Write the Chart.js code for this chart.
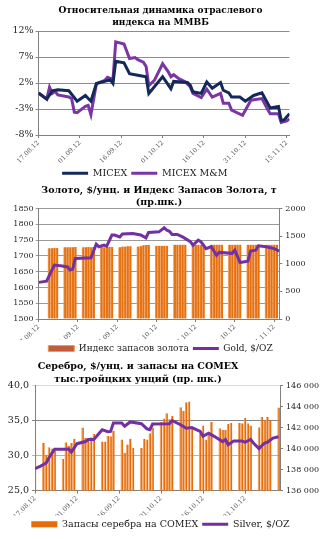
<!DOCTYPE html>
<html>
<head>
<meta charset="utf-8">
<script src="https://cdn.jsdelivr.net/npm/chart.js@4.4.0/dist/chart.umd.min.js"></script>
<style>
  body { margin: 0; background: #fff; width: 321px; height: 539px; overflow: hidden; position: relative; }
  canvas { position: absolute; left: 0; }
  .title { position: absolute; left: 0; font-family: 'DejaVu Serif', serif; font-weight: bold; font-size: 9.5px; text-align: center; color: #000; z-index: 5; white-space: nowrap; }
</style>
</head>
<body>
<div class="title" id="t1" style="top:4px;width:321px;line-height:12px;font-size:9px">Относительная динамика отраслевого<br>индекса на ММВБ</div>
<div class="title" id="t2" style="top:184px;width:318px;line-height:12px">Золото, $/унц. и Индекс Запасов Золота, т<br>(пр.шк.)</div>
<div class="title" id="t3" style="top:359px;width:276px;line-height:13px">Серебро, $/унц. и запасы на COMEX<br>тыс.тройцких унций (пр. шк.)</div>
<canvas id="c1" width="321" height="188" style="top:0"></canvas>
<canvas id="c2" width="321" height="181" style="top:182px"></canvas>
<canvas id="c3" width="321" height="183" style="top:356px"></canvas>
<script>
// x values are days counted from 17.08.12
var tickDays = [0, 15, 30, 45, 60, 75, 90];
var tickLabels = ['17.08.12', '01.09.12', '16.09.12', '01.10.12', '16.10.12', '31.10.12', '15.11.12'];

// chart 1: relative change, %
var micexDays = [0, 3, 5, 7, 11, 14, 17, 19, 21, 26, 27, 28, 31, 33, 36, 39, 40, 45, 48, 49, 54, 55, 56, 59, 61, 63, 66, 67, 69, 70, 73, 75, 78, 81, 84, 87, 88, 89, 91];
var micexValues = [0.1, -1.1, 0.5, 0.7, 0.5, -1.5, -0.4, -1.5, 1.9, 2.6, 1.9, 6.2, 5.9, 3.8, 3.5, 3.2, 0.0, 3.2, 0.9, 2.3, 2.1, 1.6, 0.3, 0.0, 2.2, 1.0, 2.1, 0.6, 0.1, -0.7, -0.7, -1.5, -0.4, 0.1, -2.8, -2.5, -5.2, -5.1, -3.9];
var mmDays = [0, 3, 4, 5, 6, 7, 11, 12, 13, 14, 17, 18, 19, 21, 24, 25, 27, 28, 31, 33, 35, 36, 38, 39, 40, 42, 45, 47, 48, 49, 51, 53, 55, 56, 59, 61, 63, 66, 67, 69, 70, 74, 77, 81, 83, 84, 87, 88, 90, 91];
var mmValues = [0.1, -1.1, 1.2, 0.0, 0.4, -0.3, -0.7, -1.0, -3.6, -3.7, -2.5, -2.3, -4.1, 1.9, 2.5, 3.1, 2.7, 9.9, 9.5, 6.7, 6.9, 6.5, 6.0, 5.2, 1.5, 2.5, 5.7, 4.2, 3.2, 3.6, 2.8, 2.3, 1.3, 0.0, -0.8, 0.8, -0.7, 0.0, -1.9, -1.9, -3.2, -4.2, -1.3, -1.0, -3.0, -3.9, -3.9, -5.6, -5.3, -4.9];

// chart 2: gold price ($/oz, left) and gold stocks index (t, right)
var goldDays = [0, 3, 6, 9, 11, 12, 13, 14, 20, 22, 23, 25, 26, 28, 29, 31, 32, 36, 39, 41, 42, 46, 48, 49, 50, 51, 53, 55, 58, 59, 61, 62, 64, 66, 68, 69, 74, 75, 77, 80, 81, 83, 84, 87, 90, 92];
var goldPrice = [1616, 1620, 1671, 1668, 1665, 1655, 1658, 1692, 1694, 1737, 1729, 1734, 1731, 1766, 1766, 1760, 1769, 1771, 1766, 1757, 1774, 1776, 1789, 1781, 1778, 1768, 1768, 1760, 1745, 1734, 1750, 1745, 1723, 1729, 1702, 1711, 1708, 1718, 1679, 1683, 1715, 1718, 1732, 1729, 1723, 1715];
var goldIndexDays = [4, 5, 6, 7, 10, 11, 12, 13, 14, 17, 18, 19, 20, 21, 24, 25, 26, 27, 28, 31, 32, 33, 34, 35, 38, 39, 40, 41, 42, 45, 46, 47, 48, 49, 52, 53, 54, 55, 56, 59, 60, 61, 62, 63, 66, 67, 68, 69, 70, 73, 74, 75, 76, 77, 80, 81, 82, 83, 84, 87, 88, 89, 90, 91];
var goldIndex = [1280, 1280, 1283, 1285, 1298, 1300, 1300, 1300, 1302, 1300, 1300, 1302, 1300, 1302, 1302, 1300, 1302, 1302, 1305, 1298, 1312, 1312, 1315, 1315, 1310, 1318, 1335, 1340, 1338, 1325, 1325, 1325, 1326, 1326, 1345, 1345, 1345, 1345, 1345, 1343, 1343, 1343, 1343, 1343, 1345, 1345, 1345, 1345, 1345, 1345, 1345, 1345, 1345, 1345, 1345, 1345, 1345, 1345, 1345, 1345, 1345, 1345, 1345, 1345];

// chart 3: silver price ($/oz, left) and COMEX stocks (thousand oz, right)
var silverDays = [0, 2, 4, 5, 7, 11, 12, 13, 15, 18, 19, 21, 22, 24, 26, 27, 28, 31, 32, 34, 38, 40, 41, 42, 48, 49, 52, 54, 56, 59, 60, 62, 64, 67, 68, 69, 71, 74, 75, 77, 78, 80, 82, 83, 85, 87];
var silverPrice = [28.15, 28.5, 28.95, 29.7, 30.9, 30.9, 30.95, 30.5, 31.7, 32.0, 32.3, 32.3, 32.75, 33.7, 33.4, 33.45, 34.65, 34.65, 34.2, 34.8, 34.55, 33.8, 33.7, 34.5, 34.55, 35.0, 34.4, 33.9, 34.0, 33.45, 32.75, 33.2, 32.75, 32.0, 32.3, 31.55, 32.1, 32.1, 31.9, 32.3, 31.8, 31.0, 31.8, 31.9, 32.5, 32.7];
var comexDays = [0, 3, 4, 5, 6, 7, 10, 11, 12, 13, 14, 17, 18, 19, 20, 21, 24, 25, 26, 27, 28, 31, 32, 33, 34, 35, 38, 39, 40, 41, 42, 45, 46, 47, 48, 49, 52, 53, 54, 55, 56, 59, 60, 61, 62, 63, 66, 67, 68, 69, 70, 73, 74, 75, 76, 77, 80, 81, 82, 83, 84, 87];
var comexStocks = [140700, 140530, 139400, 140130, 140000, 139800, 139000, 140600, 140270, 140530, 140930, 142000, 141000, 141000, 141070, 141400, 140670, 140670, 141230, 141170, 141700, 140870, 139600, 140400, 140930, 140070, 140070, 140930, 140870, 141470, 142000, 142530, 142870, 143370, 142800, 143130, 143930, 143600, 144400, 144470, 142000, 141470, 142200, 140870, 141330, 142530, 141930, 141800, 141800, 142370, 142430, 142430, 142400, 142930, 142400, 142200, 142030, 143000, 142670, 143000, 142670, 143900];

Chart.defaults.font.family = "'DejaVu Serif', serif";
Chart.defaults.color = '#262626';
Chart.defaults.animation = false;
Chart.defaults.plugins.tooltip.enabled = false;

function pts(xs, ys) {
    return xs.map(function (x, i) { return { x: x, y: ys[i] }; });
}

function plain(v) { return String(v); }

function dateAxis(maxDay, height) {
    return {
        type: 'linear', min: 0, max: maxDay, offset: false,
        grid: { drawOnChartArea: false, tickLength: 3, color: '#808080', offset: false },
        border: { color: '#808080' },
        afterBuildTicks: function (axis) {
            axis.ticks = tickDays.filter(function (d) { return d <= maxDay; }).map(function (d) { return { value: d }; });
        },
        afterFit: function (axis) { axis.height = height; },
        ticks: {
            autoSkip: false, minRotation: 45, maxRotation: 45, padding: 1,
            color: '#595959', font: { size: 6.5 },
            callback: function (v) {
                var i = tickDays.indexOf(v);
                return i < 0 ? '' : tickLabels[i];
            }
        }
    };
}

function legendOpts(size) {
    return {
        position: 'bottom',
        labels: {
            usePointStyle: true, pointStyleWidth: 26, boxHeight: 6, padding: 4, color: '#1a1a1a', font: { size: size },
            sort: function (a, b) { return a.datasetIndex - b.datasetIndex; }
        }
    };
}

// Chart 1
new Chart(document.getElementById('c1'), {
    type: 'line',
    data: {
        datasets: [
            { label: 'MICEX', data: pts(micexDays, micexValues), borderColor: '#14295A', backgroundColor: '#14295A', borderWidth: 3, pointRadius: 0, pointStyle: 'line', tension: 0 },
            { label: 'MICEX M&M', data: pts(mmDays, mmValues), borderColor: '#7B36A6', backgroundColor: '#7B36A6', borderWidth: 3, pointRadius: 0, pointStyle: 'line', tension: 0 }
        ]
    },
    options: {
        responsive: false, devicePixelRatio: 1,
        layout: { padding: { top: 31, right: 31.5, left: 0, bottom: 0 } },
        scales: {
            x: dateAxis(91, 29.5),
            y: {
                min: -8, max: 12,
                ticks: { stepSize: 5, font: { size: 9.5 }, color: '#262626', padding: 2, callback: function (v) { return v + '%'; } },
                grid: { color: '#8C8C8C', tickLength: 3 },
                border: { color: '#808080' },
                afterFit: function (axis) { axis.width = 38.5; }
            }
        },
        plugins: { legend: legendOpts(9.5) }
    }
});

// Chart 2
var goldLegend = legendOpts(9);
goldLegend.labels.generateLabels = function (chart) {
    var items = Chart.defaults.plugins.legend.labels.generateLabels(chart);
    items.forEach(function (it) {
        if (it.datasetIndex === 0) {
            it.fillStyle = '#C65A3C';
            it.strokeStyle = '#F29A48';
            it.lineWidth = 1;
        }
    });
    return items;
};
new Chart(document.getElementById('c2'), {
    type: 'bar',
    data: {
        datasets: [
            { label: 'Индекс запасов золота', data: pts(goldIndexDays, goldIndex), yAxisID: 'y1', order: 2,
              backgroundColor: '#E4700F', borderColor: '#F2A467', borderWidth: { left: 1, right: 0, top: 0, bottom: 0 }, borderSkipped: false,
              barPercentage: 1, categoryPercentage: 1, pointStyle: 'rect' },
            { type: 'line', label: 'Gold, $/OZ', data: pts(goldDays, goldPrice), yAxisID: 'y', order: 1,
              borderColor: '#7330A3', backgroundColor: '#7330A3', borderWidth: 3, pointRadius: 0, pointStyle: 'line', tension: 0 }
        ]
    },
    options: {
        responsive: false, devicePixelRatio: 1,
        layout: { padding: { top: 26.5, right: 0, left: 0, bottom: 0 } },
        scales: {
            x: dateAxis(92, 21),
            y: {
                position: 'left', min: 1500, max: 1850,
                ticks: { stepSize: 50, font: { size: 8 }, color: '#262626', padding: 2, callback: plain },
                grid: { color: '#9A9A9A', tickLength: 3 },
                border: { color: '#808080' },
                afterFit: function (axis) { axis.width = 38.7; }
            },
            y1: {
                position: 'right', min: 0, max: 2000,
                ticks: { stepSize: 500, font: { size: 8 }, color: '#262626', padding: 3, callback: plain },
                grid: { drawOnChartArea: false, color: '#808080', tickLength: 3 },
                border: { color: '#808080' },
                afterFit: function (axis) { axis.width = 41.7; }
            }
        },
        plugins: { legend: goldLegend }
    }
});

// Chart 3
new Chart(document.getElementById('c3'), {
    type: 'bar',
    data: {
        datasets: [
            { label: 'Запасы серебра на COMEX', data: pts(comexDays, comexStocks), yAxisID: 'y1', order: 2,
              backgroundColor: '#E46C0A', borderColor: '#F09A55', borderWidth: { left: 1, right: 0, top: 0, bottom: 0 }, borderSkipped: false,
              barPercentage: 0.95, categoryPercentage: 1, pointStyle: 'rect' },
            { type: 'line', label: 'Silver, $/OZ', data: pts(silverDays, silverPrice), yAxisID: 'y', order: 1,
              borderColor: '#7330A3', backgroundColor: '#7330A3', borderWidth: 3, pointRadius: 0, pointStyle: 'line', tension: 0 }
        ]
    },
    options: {
        responsive: false, devicePixelRatio: 1,
        layout: { padding: { top: 29.5, right: 0, left: 0, bottom: 0 } },
        scales: {
            x: dateAxis(87.5, 24.85),
            y: {
                position: 'left', min: 25, max: 40,
                ticks: { stepSize: 5, font: { size: 9.5 }, color: '#262626', padding: 3,
                         callback: function (v) { return v.toFixed(1).replace('.', ','); } },
                grid: {
                    tickLength: 3,
                    color: function (c) { return c.tick && c.tick.value === 30 ? '#B4B4B4' : (c.tick && c.tick.value === 40 ? '#D9D9D9' : '#858585'); }
                },
                border: { color: '#808080' },
                afterFit: function (axis) { axis.width = 35; }
            },
            y1: {
                position: 'right', min: 136000, max: 146000,
                ticks: { stepSize: 2000, font: { size: 8 }, color: '#262626', padding: 3,
                         callback: function (v) { return String(v).replace(/\B(?=(\d{3})+(?!\d))/g, ' '); } },
                grid: { drawOnChartArea: false, color: '#808080', tickLength: 3 },
                border: { color: '#808080' },
                afterFit: function (axis) { axis.width = 41; }
            }
        },
        plugins: { legend: legendOpts(9.5) }
    }
});
</script>
</body>
</html>
